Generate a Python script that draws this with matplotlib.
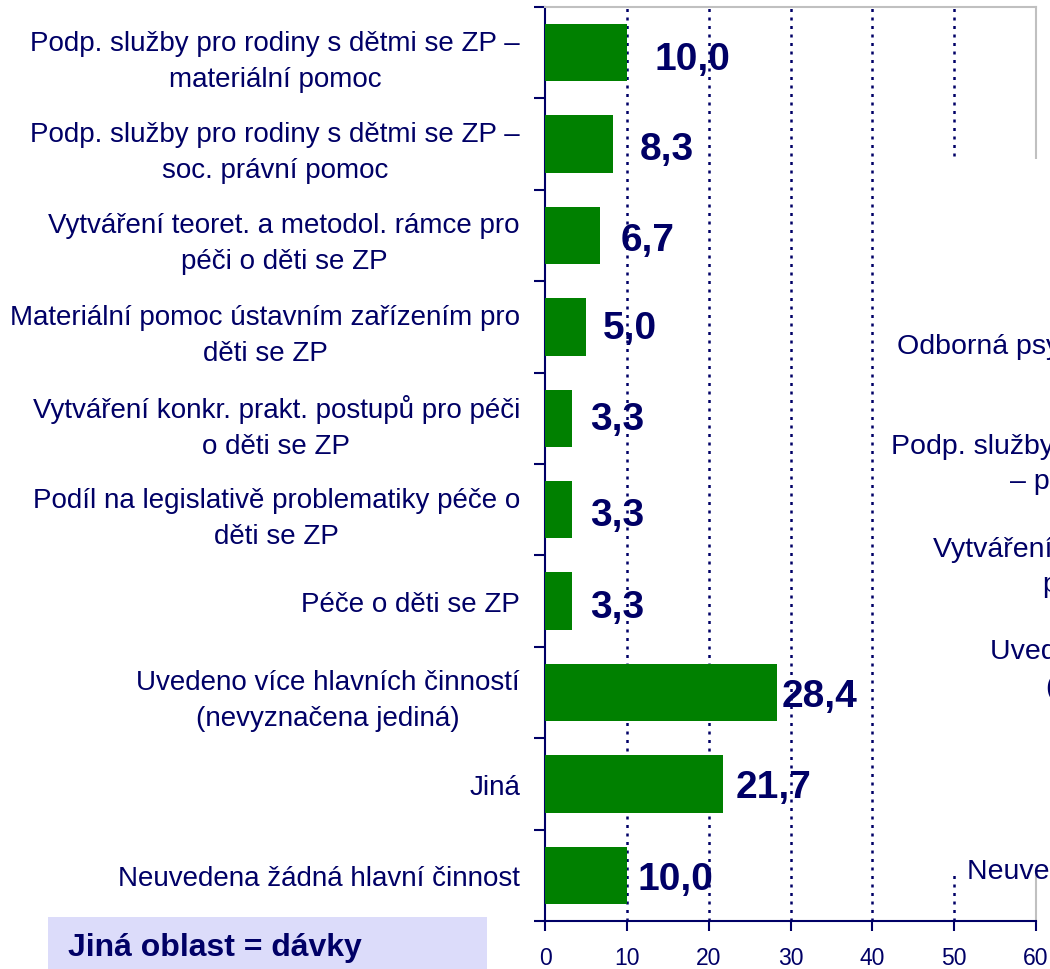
import numpy as np
import matplotlib
matplotlib.use('Agg')
import matplotlib.pyplot as plt
from matplotlib.patches import Rectangle

plt.rcParams['font.family'] = ['Liberation Sans', 'DejaVu Sans']

# hlavni cinnost organizaci (%)
kategorie = ['Podp. služby pro rodiny s dětmi se ZP –\nmateriální pomoc',
             'Podp. služby pro rodiny s dětmi se ZP –\nsoc. právní pomoc',
             'Vytváření teoret. a metodol. rámce pro\npéči o děti se ZP',
             'Materiální pomoc ústavním zařízením pro\nděti se ZP',
             'Vytváření konkr. prakt. postupů pro péči\no děti se ZP',
             'Podíl na legislativě problematiky péče o\nděti se ZP',
             'Péče o děti se ZP',
             'Uvedeno více hlavních činností\n(nevyznačena jediná)',
             'Jiná',
             'Neuvedena žádná hlavní činnost']
hodnoty = [10.0, 8.3, 6.7, 5.0, 3.3, 3.3, 3.3, 28.4, 21.7, 10.0]
xticky = [0, 10, 20, 30, 40, 50, 60]

# popisky vedlejsiho grafu (orezane okrajem)
druhe_popisky = ['Odborná psychologická pomoc',
                 'Podp. služby pro rodiny', '– psychologická pomoc',
                 'Vytváření teoret.', 'pro péči',
                 'Uvedeno více', '(nevyznačena',
                 'Neuvedena žádná']

navy = '#000066'
W, H = 1050, 970

fig = plt.figure(figsize=(10.5, 9.7), dpi=100)
ax = fig.add_axes([545/W, 1-922/H, (1036-545)/W, (922-8)/H])

y = np.arange(len(hodnoty))
ax.barh(y, hodnoty, height=0.63, color='#008000', zorder=3)
ax.set_ylim(len(hodnoty)-0.5, -0.5)
ax.set_xlim(0, 60)

# popisky hodnot - posun v pixelech od konce sloupce
posun = [(28, -6), (27, -5), (21, -5), (17, -1), (18, -1),
         (18, -5), (18, -6), (4, -4), (13, -3), (11, -4)]
for yi, v, (dx, dy) in zip(y, hodnoty, posun):
    ax.annotate(f'{v:.1f}'.replace('.', ','), (v, yi), xytext=(dx, dy),
                textcoords='offset pixels', ha='left', va='center',
                fontsize=28, fontweight='bold', color=navy, zorder=4)

ax.set_yticks(y)
ax.set_yticklabels(kategorie, fontsize=20, color=navy,
                   multialignment='center', linespacing=1.5)
ax.set_yticks(np.arange(len(hodnoty)+1)-0.5, minor=True)
ax.tick_params(axis='y', which='major', length=0, pad=18)
ax.tick_params(axis='y', which='minor', length=8, width=1.5, color=navy,
               direction='out')

ax.set_xticks(xticky)
ax.set_xticklabels([str(t) for t in xticky], fontsize=16.5, color=navy)
ax.tick_params(axis='x', length=7, width=1.5, color=navy, pad=11)

for xv in xticky[1:-1]:
    ax.axvline(xv, color=navy, lw=1.8, ls=(0, (1.2, 2.2)), zorder=1)

ax.spines['left'].set_color(navy)
ax.spines['left'].set_linewidth(1.5)
ax.spines['bottom'].set_color(navy)
ax.spines['bottom'].set_linewidth(1.5)
ax.spines['top'].set_color('#c0c0c0')
ax.spines['top'].set_linewidth(1.5)
ax.spines['right'].set_color('#c0c0c0')
ax.spines['right'].set_linewidth(1.5)

# prekryvajici cast vedlejsiho grafu
fig.add_artist(Rectangle((880/W, 1-876/H), (W-880)/W, (876-160)/H,
                         transform=fig.transFigure, facecolor='white',
                         edgecolor='none', zorder=5))
poz = [(897, 347), (891, 447), (1010, 482), (933, 550), (1043, 585),
       (990, 652), (1045, 688), (967, 872)]
for txt, (px, py) in zip(druhe_popisky, poz):
    fig.text(px/W, 1-py/H, txt, fontsize=20.5, color=navy,
             ha='left', va='center', zorder=6)

# poznamka dole vlevo
fig.add_artist(Rectangle((48/W, 0), (487-48)/W, (970-918)/H,
                         transform=fig.transFigure, facecolor='#dcdcfa',
                         edgecolor='none', zorder=5))
fig.text(68/W, 1-948/H, 'Jiná oblast = dávky', fontsize=23,
         fontweight='bold', color=navy, ha='left', va='center', zorder=6)

fig.savefig('out.png', dpi=100)
